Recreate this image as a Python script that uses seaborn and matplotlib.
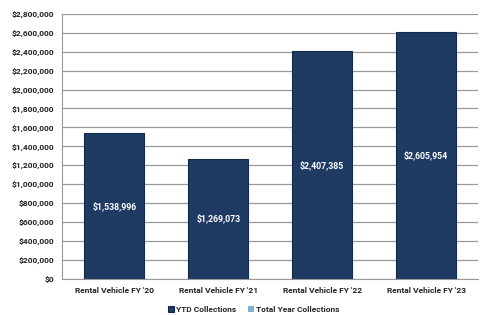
import pandas as pd
import seaborn as sns
import matplotlib.pyplot as plt
from matplotlib.ticker import FuncFormatter

# data
categories = ["Rental Vehicle FY '20", "Rental Vehicle FY '21",
              "Rental Vehicle FY '22", "Rental Vehicle FY '23"]
ytd = [1538996, 1269073, 2407385, 2605954]
total_year = [0, 0, 0, 0]

df = pd.DataFrame({"Categoria": categories, "YTD": ytd, "Total": total_year})

sns.set_style("white")
plt.rcParams['font.family'] = ['Roboto', 'DejaVu Sans']

fig = plt.figure(figsize=(4.8, 3.15), dpi=100)
ax = fig.add_axes([0.13, 0.115, 0.866, 0.841])

sns.barplot(x="Categoria", y="YTD", data=df, color="#1f3b63", width=0.58,
            edgecolor="#15294a", linewidth=0.8, saturation=1, ax=ax,
            label="YTD Collections")
ax.bar(range(len(categories)), df["Total"], bottom=df["YTD"], width=0.58,
       color="#7fb0cc", linewidth=0, label="Total Year Collections")

# etiketler
for i, v in enumerate(ytd):
    ax.text(i, v / 2, "${:,.0f}".format(v), ha="center", va="center",
            color="white", fontsize=6.3, fontweight="bold")

ax.set_ylim(0, 2800000)
ax.set_yticks(range(0, 2800001, 200000))
ax.yaxis.set_major_formatter(FuncFormatter(lambda v, p: "${:,.0f}".format(v)))
ax.set_xlim(-0.5, 3.5)
ax.set_xticks([-0.5, 0.5, 1.5, 2.5, 3.5], minor=False)
ax.set_xticklabels([])
ax.set_xticks(range(4), minor=True)
ax.set_xticklabels(categories, minor=True)
ax.tick_params(axis="x", which="minor", length=0, pad=6)
ax.tick_params(axis="x", which="major", length=3, color="#999999", direction="out")
ax.tick_params(axis="y", length=3, color="#999999", direction="out", pad=3)
for lab in ax.get_yticklabels() + ax.get_xticklabels(minor=True):
    lab.set_fontsize(6)
    lab.set_fontweight("bold")
    lab.set_color("#222222")

ax.yaxis.grid(True, color="#999999", linewidth=0.9)
ax.set_axisbelow(True)
for s in ["top", "right"]:
    ax.spines[s].set_visible(False)
ax.spines["left"].set_color("#999999")
ax.spines["bottom"].set_color("#999999")
ax.set_xlabel("")
ax.set_ylabel("")

leg = ax.legend(loc="upper center", bbox_to_anchor=(0.46, -0.075), ncol=2,
                frameon=False, fontsize=6, handlelength=0.75, handleheight=0.75,
                handletextpad=0.15, columnspacing=1.5)
for t in leg.get_texts():
    t.set_fontweight("bold")

fig.savefig("out.png", dpi=100)
